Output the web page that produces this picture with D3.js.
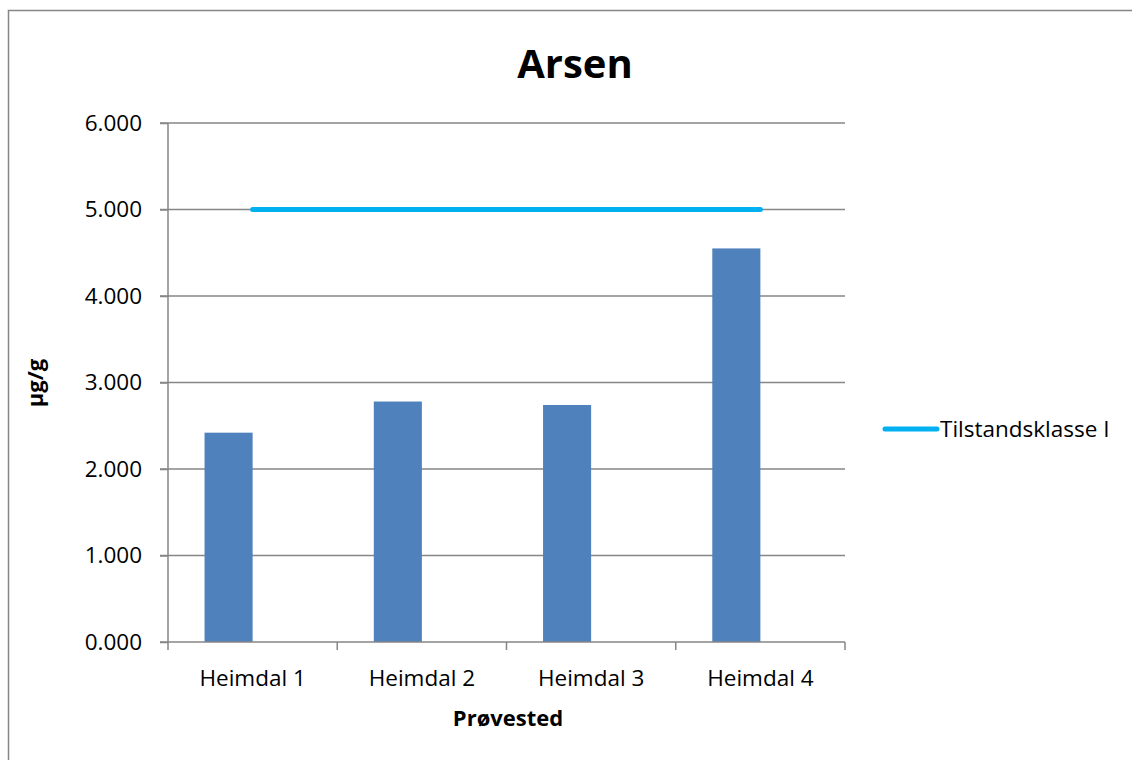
<!DOCTYPE html>
<html>
<head>
<meta charset="utf-8">
<script src="https://cdn.jsdelivr.net/npm/d3@7"></script>
<style>
  html, body { margin: 0; padding: 0; background: #fff; }
  svg { display: block; font-family: "Open Sans", "Noto Sans", sans-serif; }
</style>
</head>
<body>
<svg id="chart" width="1132" height="760"></svg>
<script>
// Arsen concentrations per sampling site (µg/g)
const categories = ["Heimdal 1", "Heimdal 2", "Heimdal 3", "Heimdal 4"];
const arsenValues = [2.42, 2.78, 2.74, 4.55];
// Condition class I limit
const limitValues = [5.0, 5.0, 5.0, 5.0];
const limitLabel = "Tilstandsklasse I";
const yTicks = [0, 1, 2, 3, 4, 5, 6];

const svg = d3.select("#chart");
const W = 1132, H = 760;
const plot = { left: 168, right: 845, top: 123, bottom: 642 };
const gridColor = "#868686";
const labelSize = 22.5;

// chart frame
svg.append("path")
  .attr("d", `M8.5,${H} V10.5 H${W}`)
  .attr("fill", "none")
  .attr("stroke", gridColor)
  .attr("stroke-width", 1.5);

const x0 = d3.scaleBand().domain(categories).range([plot.left, plot.right]).paddingInner(0).paddingOuter(0);
// two slots per category: bar on the left half, empty slot on the right
const x1 = d3.scaleBand().domain(["arsen", "blank"]).range([0, x0.bandwidth()]).paddingInner(0).paddingOuter(0.76);
const y = d3.scaleLinear().domain([0, 6]).range([plot.bottom, plot.top]);

// horizontal gridlines
svg.append("g").selectAll("line").data(yTicks.slice(1)).join("line")
  .attr("x1", plot.left - 8).attr("x2", plot.right)
  .attr("y1", d => y(d)).attr("y2", d => y(d))
  .attr("stroke", gridColor).attr("stroke-width", 1.5);

// y axis
const yAxis = d3.axisLeft(y).tickValues(yTicks).tickSize(8).tickPadding(18)
  .tickFormat(d => d3.format(".3f")(d));
const gy = svg.append("g").attr("transform", `translate(${plot.left},0)`).call(yAxis);
gy.select(".domain").attr("stroke", gridColor).attr("stroke-width", 1.5)
  .attr("d", `M0,${plot.top}V${plot.bottom}`);
gy.selectAll(".tick line").attr("stroke", gridColor).attr("stroke-width", 1.5);
gy.selectAll(".tick text").attr("font-size", labelSize).attr("fill", "#000")
  .attr("font-family", "'Open Sans', sans-serif");

// bars
svg.append("g").selectAll("rect").data(categories).join("rect")
  .attr("x", (c) => x0(c) + x1("arsen"))
  .attr("width", x1.bandwidth())
  .attr("y", (c, i) => y(arsenValues[i]))
  .attr("height", (c, i) => plot.bottom - y(arsenValues[i]))
  .attr("fill", "#4F81BD");

// x axis
const xAxis = d3.axisBottom(x0).tickSize(0).tickPadding(28);
const gx = svg.append("g").attr("transform", `translate(0,${plot.bottom})`).call(xAxis);
gx.select(".domain").attr("stroke", gridColor).attr("stroke-width", 1.5)
  .attr("d", `M${plot.left - 8},0H${plot.right}`);
gx.selectAll(".tick text").attr("font-size", labelSize).attr("fill", "#000")
  .attr("font-family", "'Open Sans', sans-serif");
// category boundary ticks
const bounds = categories.map(c => x0(c)).concat([x0.range()[1]]);
gx.append("g").selectAll("line").data(bounds).join("line")
  .attr("x1", d => d).attr("x2", d => d)
  .attr("y1", 0).attr("y2", 8)
  .attr("stroke", gridColor).attr("stroke-width", 1.5);

// limit line
const line = d3.line()
  .x((d, i) => x0(categories[i]) + x0.bandwidth() / 2)
  .y(d => y(d));
svg.append("path").datum(limitValues)
  .attr("d", line)
  .attr("fill", "none")
  .attr("stroke", "#00B0F0")
  .attr("stroke-width", 5)
  .attr("stroke-linecap", "round");

// title
svg.append("text").attr("x", 575).attr("y", 78)
  .attr("text-anchor", "middle")
  .attr("font-size", 40).attr("font-weight", "bold")
  .text("Arsen");

// axis titles
svg.append("text")
  .attr("transform", `translate(43,383) rotate(-90)`)
  .attr("text-anchor", "middle")
  .attr("font-size", 22).attr("font-weight", "bold")
  .text("µg/g");
svg.append("text").attr("x", 508).attr("y", 726)
  .attr("text-anchor", "middle")
  .attr("font-size", 22).attr("font-weight", "bold")
  .text("Prøvested");

// legend
const lg = svg.append("g").attr("transform", "translate(885,429)");
lg.append("line").attr("x1", 0).attr("x2", 52).attr("y1", 0).attr("y2", 0)
  .attr("stroke", "#00B0F0").attr("stroke-width", 5).attr("stroke-linecap", "round");
lg.append("text").attr("x", 55).attr("y", 8)
  .attr("font-size", labelSize)
  .text(limitLabel);
</script>
</body>
</html>
